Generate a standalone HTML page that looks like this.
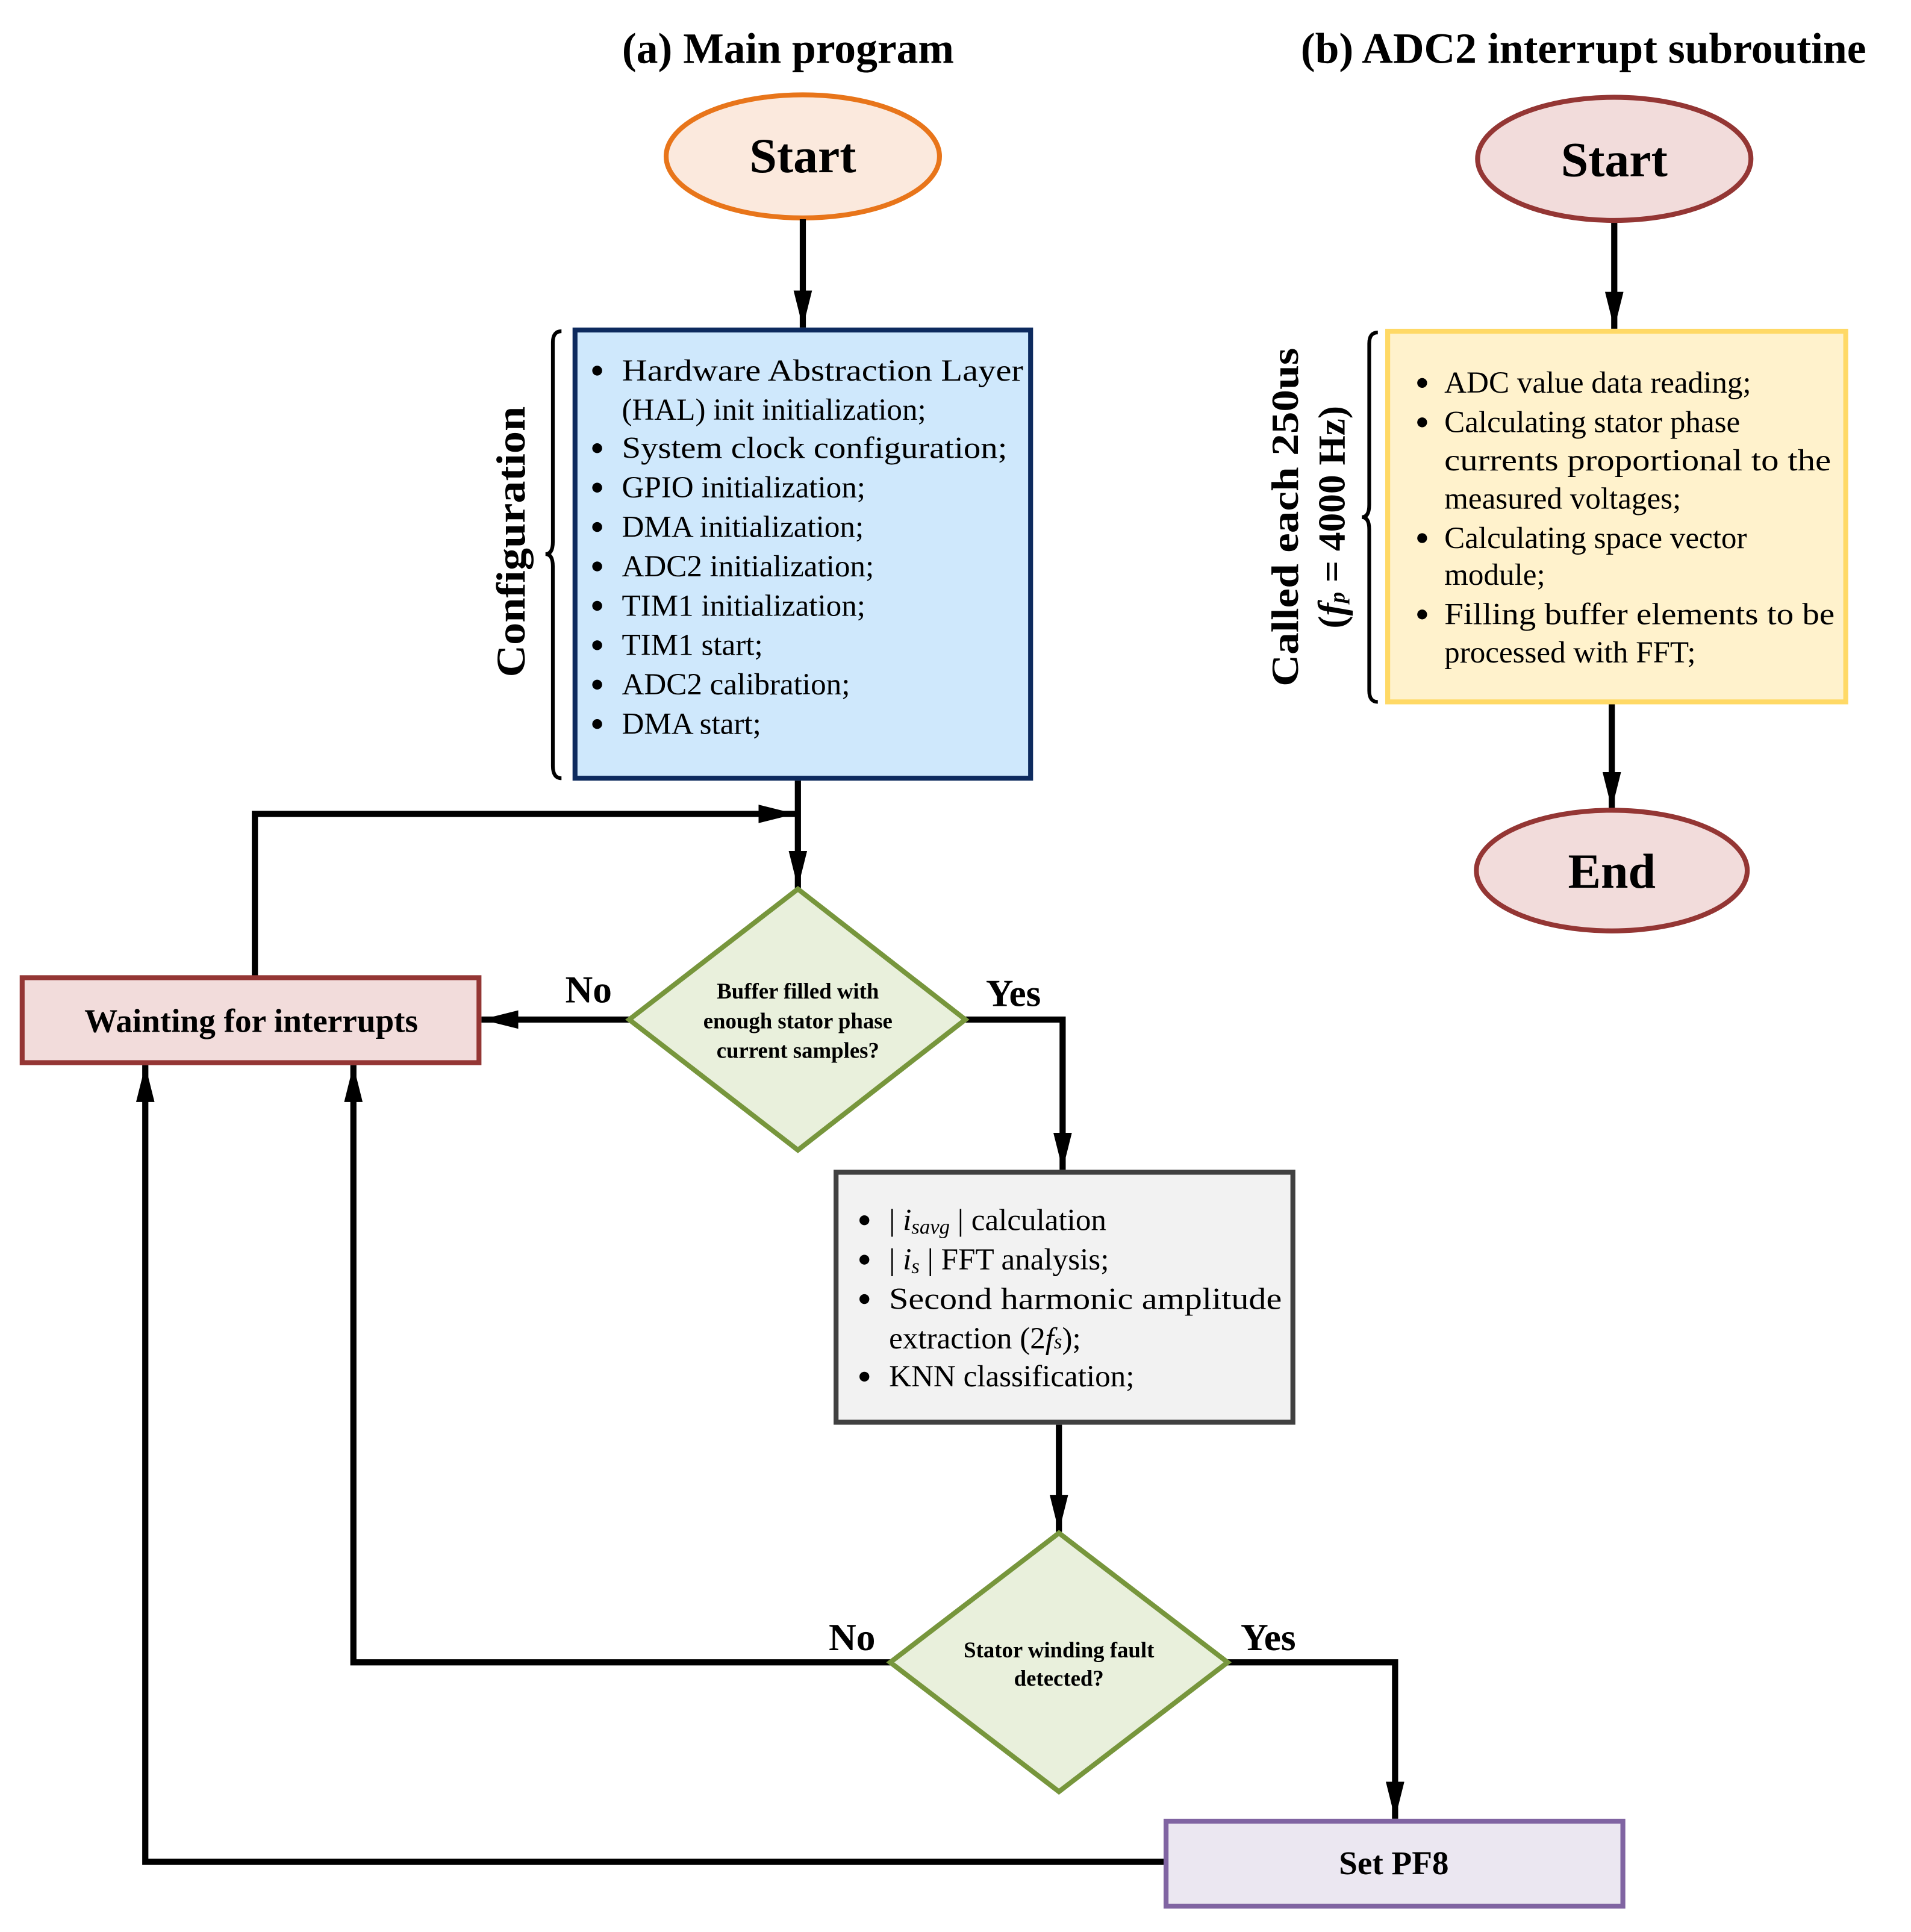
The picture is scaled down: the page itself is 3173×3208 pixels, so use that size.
<!DOCTYPE html>
<html><head><meta charset="utf-8"><style>html,body{margin:0;padding:0;background:#fff}svg{display:block}</style></head>
<body>
<svg width="3173" height="3208" viewBox="0 0 1552 1569" preserveAspectRatio="none" xmlns="http://www.w3.org/2000/svg" font-family="'Liberation Serif', serif">
<defs>
<marker id="ah" markerWidth="6" markerHeight="3" refX="6" refY="1.5" orient="auto" markerUnits="strokeWidth"><path d="M0,0 L6,1.5 L0,3 z" fill="#000"/></marker>
</defs>
<g font-weight="bold" font-size="35" text-anchor="middle">
<text x="640" y="51">(a) Main program</text>
<text x="1286" y="51">(b) ADC2 interrupt subroutine</text>
</g>
<ellipse cx="652" cy="127" rx="111" ry="50" fill="#fbe9dd" stroke="#e8751a" stroke-width="4"/>
<text x="652" y="140" font-size="40" font-weight="bold" text-anchor="middle">Start</text>
<g stroke="#000" stroke-width="5" fill="none">
<line x1="652" y1="178" x2="652" y2="266" marker-end="url(#ah)"/>
<line x1="648" y1="634" x2="648" y2="721" marker-end="url(#ah)"/>
<polyline points="207,793 207,661 646,661" marker-end="url(#ah)"/>
<line x1="511" y1="828" x2="391" y2="828" marker-end="url(#ah)"/>
<polyline points="784,828 863,828 863,950" marker-end="url(#ah)"/>
<line x1="860" y1="1157" x2="860" y2="1244" marker-end="url(#ah)"/>
<polyline points="723,1350 287,1350 287,865" marker-end="url(#ah)"/>
<polyline points="997,1350 1133,1350 1133,1477" marker-end="url(#ah)"/>
<polyline points="947,1512 118,1512 118,865" marker-end="url(#ah)"/>
<line x1="1311" y1="180" x2="1311" y2="267" marker-end="url(#ah)"/>
<line x1="1309" y1="572" x2="1309" y2="657" marker-end="url(#ah)"/>
</g>
<rect x="467" y="268" width="370" height="364" fill="#cfe8fc" stroke="#0d2a5e" stroke-width="4"/>
<g font-size="25">
<g fill="#000"><circle cx="485" cy="301" r="4"/><circle cx="485" cy="364" r="4"/><circle cx="485" cy="396" r="4"/><circle cx="485" cy="428" r="4"/><circle cx="485" cy="460" r="4"/><circle cx="485" cy="492" r="4"/><circle cx="485" cy="524" r="4"/><circle cx="485" cy="556" r="4"/><circle cx="485" cy="588" r="4"/></g>
<text x="505" y="309" textLength="326" lengthAdjust="spacingAndGlyphs">Hardware Abstraction Layer</text>
<text x="505" y="341">(HAL) init initialization;</text>
<text x="505" y="372" textLength="313" lengthAdjust="spacingAndGlyphs">System clock configuration;</text>
<text x="505" y="404">GPIO initialization;</text>
<text x="505" y="436">DMA initialization;</text>
<text x="505" y="468">ADC2 initialization;</text>
<text x="505" y="500">TIM1 initialization;</text>
<text x="505" y="532">TIM1 start;</text>
<text x="505" y="564">ADC2 calibration;</text>
<text x="505" y="596">DMA start;</text>
</g>
<path d="M456,269 Q449,269 449,278 L449,440 Q449,450 443,450 Q449,450 449,460 L449,622 Q449,632 456,632" fill="none" stroke="#000" stroke-width="3"/>
<text transform="translate(426,440) rotate(-90)" font-size="33" font-weight="bold" text-anchor="middle" textLength="220" lengthAdjust="spacingAndGlyphs">Configuration</text>
<polygon points="648,722 784,828 648,934 511,828" fill="#e9f0dc" stroke="#77963c" stroke-width="4"/>
<g font-size="18" font-weight="bold" text-anchor="middle">
<text x="648" y="811">Buffer filled with</text>
<text x="648" y="835">enough stator phase</text>
<text x="648" y="859">current samples?</text>
</g>
<g font-size="31" font-weight="bold" text-anchor="middle">
<text x="478" y="814">No</text>
<text x="823" y="817">Yes</text>
<text x="692" y="1340">No</text>
<text x="1030" y="1340">Yes</text>
</g>
<rect x="18" y="794" width="371" height="69" fill="#f2dcdb" stroke="#943634" stroke-width="4"/>
<text x="204" y="838" font-size="27" font-weight="bold" text-anchor="middle">Wainting for interrupts</text>
<rect x="679" y="952" width="371" height="203" fill="#f2f2f2" stroke="#404040" stroke-width="4"/>
<g font-size="25">
<g fill="#000"><circle cx="702" cy="991" r="4"/><circle cx="702" cy="1023" r="4"/><circle cx="702" cy="1055" r="4"/><circle cx="702" cy="1118" r="4"/></g>
<text x="722" y="999">| <tspan font-style="italic">i<tspan font-size="17" dy="3">savg</tspan></tspan><tspan dy="-3"> | calculation</tspan></text>
<text x="722" y="1031">| <tspan font-style="italic">i<tspan font-size="17" dy="3">s</tspan></tspan><tspan dy="-3"> | FFT analysis;</tspan></text>
<text x="722" y="1063" textLength="319" lengthAdjust="spacingAndGlyphs">Second harmonic amplitude</text>
<text x="722" y="1095">extraction (2<tspan font-style="italic">f</tspan><tspan font-size="17" font-style="italic">s</tspan>);</text>
<text x="722" y="1126">KNN classification;</text>
</g>
<polygon points="860,1245 997,1350 860,1455 723,1350" fill="#e9f0dc" stroke="#77963c" stroke-width="4"/>
<g font-size="18" font-weight="bold" text-anchor="middle">
<text x="860" y="1346">Stator winding fault</text>
<text x="860" y="1369">detected?</text>
</g>
<rect x="947" y="1479" width="371" height="69" fill="#ebe7f1" stroke="#8064a2" stroke-width="4"/>
<text x="1132" y="1522" font-size="27" font-weight="bold" text-anchor="middle">Set PF8</text>
<ellipse cx="1311" cy="129" rx="111" ry="50" fill="#f2dcdb" stroke="#943634" stroke-width="4"/>
<text x="1311" y="143" font-size="40" font-weight="bold" text-anchor="middle">Start</text>
<rect x="1127" y="269" width="372" height="301" fill="#fff2cc" stroke="#ffd966" stroke-width="4"/>
<g font-size="25">
<g fill="#000"><circle cx="1155" cy="311" r="4"/><circle cx="1155" cy="343" r="4"/><circle cx="1155" cy="437" r="4"/><circle cx="1155" cy="499" r="4"/></g>
<text x="1173" y="319">ADC value data reading;</text>
<text x="1173" y="351">Calculating stator phase</text>
<text x="1173" y="382" textLength="314" lengthAdjust="spacingAndGlyphs">currents proportional to the</text>
<text x="1173" y="413">measured voltages;</text>
<text x="1173" y="445">Calculating space vector</text>
<text x="1173" y="475">module;</text>
<text x="1173" y="507" textLength="317" lengthAdjust="spacingAndGlyphs">Filling buffer elements to be</text>
<text x="1173" y="538">processed with FFT;</text>
</g>
<path d="M1119,270 Q1112,270 1112,279 L1112,410 Q1112,420 1106,420 Q1112,420 1112,430 L1112,561 Q1112,570 1119,570" fill="none" stroke="#000" stroke-width="3"/>
<text transform="translate(1054,420) rotate(-90)" font-size="31" font-weight="bold" text-anchor="middle" textLength="275" lengthAdjust="spacingAndGlyphs">Called each 250us</text>
<text transform="translate(1092,420) rotate(-90)" font-size="31" font-weight="bold" text-anchor="middle">(<tspan font-style="italic">f</tspan><tspan font-size="18" font-style="italic">p</tspan> = 4000 Hz)</text>
<ellipse cx="1309" cy="707" rx="110" ry="49" fill="#f2dcdb" stroke="#943634" stroke-width="4"/>
<text x="1309" y="721" font-size="40" font-weight="bold" text-anchor="middle">End</text>
</svg>
</body></html>
